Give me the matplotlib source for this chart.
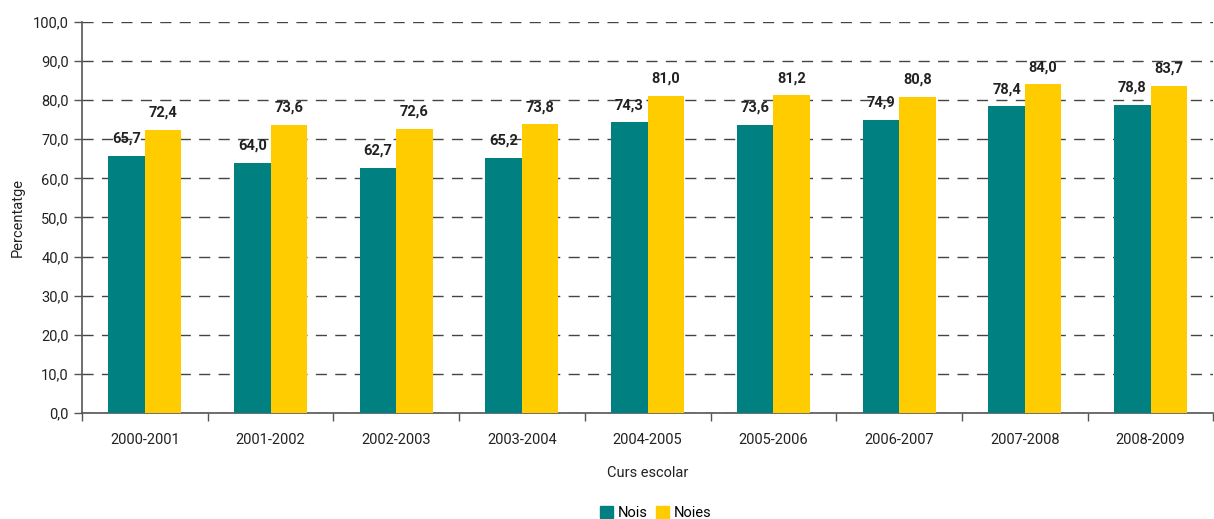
import numpy as np
import matplotlib
matplotlib.use('Agg')
import matplotlib.pyplot as plt
from matplotlib.patches import Patch

plt.rcParams['font.family'] = ['Roboto', 'DejaVu Sans']

courses = ['2000-2001', '2001-2002', '2002-2003', '2003-2004', '2004-2005',
           '2005-2006', '2006-2007', '2007-2008', '2008-2009']
nois = [65.7, 64.0, 62.7, 65.2, 74.3, 73.6, 74.9, 78.4, 78.8]
noies = [72.4, 73.6, 72.6, 73.8, 81.0, 81.2, 80.8, 84.0, 83.7]
teal = '#008080'
yellow = '#FFCC00'


def fmt(v):
    return '{:.1f}'.format(v).replace('.', ',')


fig = plt.figure(figsize=(12.14, 5.19), dpi=100)
ax = fig.add_axes([0.0675, 0.204, 0.932, 0.754])

x = np.arange(len(courses))
w = 0.29
b1 = ax.bar(x - w / 2, nois, w, color=teal, zorder=3)
b2 = ax.bar(x + w / 2, noies, w, color=yellow, zorder=3)

for rect, v in zip(list(b1) + list(b2), nois + noies):
    ax.text(rect.get_x() + rect.get_width() / 2, v + 2.6, fmt(v), ha='center', va='bottom',
            fontsize=10.5, fontweight='bold', color='#222222', zorder=4)

ax.set_xlim(-0.5, len(courses) - 0.5)
ax.set_ylim(0, 100)
ax.set_yticks(np.arange(0, 101, 10))
ax.set_yticklabels([fmt(v) for v in np.arange(0, 101, 10)])
ax.set_xticks(x)
ax.set_xticklabels(courses)
ax.set_xticks(np.arange(-0.5, len(courses), 1), minor=True)
ax.tick_params(axis='x', which='major', length=0, pad=14, labelsize=10.5, colors='#222222')
ax.tick_params(axis='x', which='minor', length=6, width=1, color='#555555')
ax.tick_params(axis='y', length=6, width=1, color='#555555', labelsize=10.5, labelcolor='#222222')

ax.yaxis.grid(True, linestyle=(0, (8, 6)), color='#444444', linewidth=1, zorder=0)
for s in ['top', 'right']:
    ax.spines[s].set_visible(False)
for s in ['left', 'bottom']:
    ax.spines[s].set_color('#555555')
    ax.spines[s].set_linewidth(1.2)

ax.set_ylabel('Percentatge', fontsize=10.5, color='#222222', labelpad=6)
ax.set_xlabel('Curs escolar', fontsize=10.5, color='#222222', labelpad=14)

handles = [Patch(color=teal, label='Nois'), Patch(color=yellow, label='Noies')]
fig.legend(handles=handles, loc='center', bbox_to_anchor=(0.54, 0.012), ncol=2, frameon=False,
           fontsize=10.5, handlelength=0.9, handleheight=0.9, handletextpad=0.3, columnspacing=0.6)

fig.savefig('out.png', dpi=100)
